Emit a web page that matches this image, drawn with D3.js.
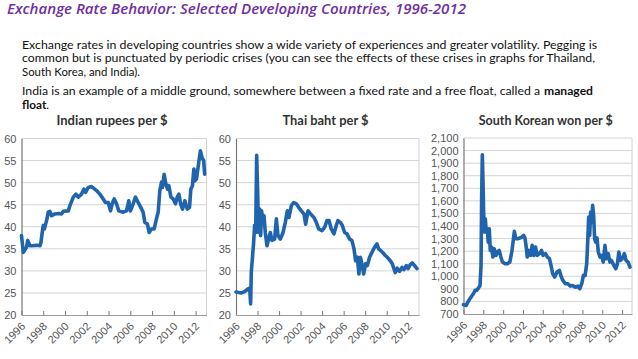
<!DOCTYPE html>
<html>
<meta charset="utf-8" />
<style>
  body { margin: 0; background: #fff; }
  svg { display: block; }
</style>
<svg width="638" height="359"></svg>
<script src="https://d3js.org/d3.v7.min.js"></script>
<script>
  // ---- data ----
  const yearTicks = [1996, 1998, 2000, 2002, 2004, 2006, 2008, 2010, 2012];
  const rateTicks = [20, 25, 30, 35, 40, 45, 50, 55, 60];
  const wonTicks = [700, 800, 900, 1000, 1100, 1200, 1300, 1400, 1500, 1600, 1700, 1800, 1900, 2000, 2100];

  // [year, rupees per $]
  const indiaRates = [
    [1996.0, 38], [1996.17, 34.2], [1996.47, 35.4], [1996.57, 36.9], [1996.78, 35.7],
    [1997.0, 35.7], [1997.4, 35.8], [1997.7, 35.7], [1997.79, 36.5], [1997.91, 38.8],
    [1998.0, 40.3], [1998.1, 39.5], [1998.22, 40.6], [1998.37, 42.1], [1998.46, 43.3],
    [1998.61, 43.5], [1998.77, 42.5], [1999.07, 42.9], [1999.4, 43.0], [1999.68, 42.9],
    [1999.84, 43.5], [2000.3, 43.6], [2000.45, 44.8], [2000.76, 46.7], [2001.0, 47.4],
    [2001.21, 46.7], [2001.52, 47.4], [2001.73, 48.5], [2001.89, 47.8], [2002.13, 48.9],
    [2002.44, 49.1], [2002.9, 48.2], [2003.2, 47.4], [2003.51, 46.3], [2003.72, 45.5],
    [2003.97, 45.5], [2004.18, 43.6], [2004.33, 45.2], [2004.52, 46.3], [2004.73, 45.2],
    [2004.94, 43.6], [2005.34, 43.3], [2005.65, 43.6], [2005.86, 45.9], [2006.01, 43.6],
    [2006.26, 45.2], [2006.47, 46.7], [2006.72, 45.5], [2006.96, 44.4], [2007.18, 43.3],
    [2007.33, 41.0], [2007.57, 40.6], [2007.73, 38.7], [2007.94, 39.5], [2008.19, 39.5],
    [2008.4, 41.8], [2008.56, 43.3], [2008.71, 48.2], [2008.87, 50.1], [2008.96, 48.9],
    [2009.11, 51.9], [2009.23, 50.1], [2009.42, 48.5], [2009.54, 49.3], [2009.73, 46.7],
    [2009.94, 46.3], [2010.15, 45.2], [2010.31, 46.7], [2010.46, 47.4], [2010.62, 45.2],
    [2010.8, 44.0], [2011.01, 45.9], [2011.23, 44.0], [2011.44, 44.4], [2011.56, 48.5],
    [2011.71, 49.3], [2011.84, 53.1], [2011.93, 50.4], [2012.08, 50.8], [2012.29, 54.6],
    [2012.44, 57.2], [2012.59, 55.7], [2012.74, 55.0], [2012.83, 51.9]
  ];

  // [year, baht per $]
  const thaiRates = [
    [1996.0, 25.2], [1996.5, 25.0], [1996.8, 25.3], [1997.11, 25.9], [1997.27, 26.1],
    [1997.36, 22.5], [1997.42, 29.7], [1997.52, 32.7], [1997.64, 36.5], [1997.73, 40.3],
    [1997.83, 38.7], [1997.92, 56.2], [1998.01, 47.8], [1998.11, 38.7], [1998.2, 44.0],
    [1998.29, 38.0], [1998.38, 43.6], [1998.51, 41.0], [1998.6, 42.5], [1998.72, 38.7],
    [1998.88, 35.7], [1999.03, 37.2], [1999.19, 38.7], [1999.34, 36.9], [1999.59, 37.2],
    [1999.75, 41.8], [1999.9, 38.0], [2000.12, 37.2], [2000.37, 38.7], [2000.58, 41.0],
    [2000.77, 43.6], [2000.92, 42.1], [2001.14, 44.8], [2001.36, 45.5], [2001.6, 45.2],
    [2001.82, 44.4], [2002.07, 43.6], [2002.32, 42.9], [2002.47, 40.6], [2002.69, 43.6],
    [2002.93, 42.9], [2003.24, 42.1], [2003.46, 41.0], [2003.68, 39.5], [2003.99, 39.1],
    [2004.24, 39.9], [2004.45, 41.4], [2004.64, 41.4], [2004.85, 39.5], [2005.1, 38.4],
    [2005.32, 40.3], [2005.47, 41.4], [2005.69, 41.0], [2005.88, 40.3], [2006.09, 38.7],
    [2006.31, 38.4], [2006.56, 37.2], [2006.77, 36.9], [2006.96, 35.0], [2007.11, 32.3],
    [2007.27, 33.1], [2007.42, 29.3], [2007.55, 33.1], [2007.7, 31.6], [2007.86, 29.3],
    [2008.04, 31.6], [2008.2, 31.2], [2008.41, 33.1], [2008.63, 34.2], [2008.88, 35.4],
    [2009.1, 36.1], [2009.25, 35.0], [2009.44, 34.6], [2009.65, 34.1], [2009.87, 33.5],
    [2010.12, 32.9], [2010.33, 32.3], [2010.52, 31.6], [2010.67, 30.5], [2010.8, 29.6],
    [2010.98, 30.6], [2011.2, 29.9], [2011.42, 30.8], [2011.6, 30.3], [2011.82, 31.2],
    [2011.98, 30.5], [2012.19, 31.4], [2012.38, 31.8], [2012.59, 31.2], [2012.81, 30.5]
  ];

  // [year, won per $]
  const koreaRates = [
    [1996.0, 774], [1996.27, 768], [1996.53, 808], [1996.77, 835], [1997.0, 861],
    [1997.17, 888], [1997.33, 888], [1997.5, 906], [1997.67, 927], [1997.77, 1087],
    [1997.83, 1617], [1997.9, 1967], [1997.97, 1750], [1998.03, 1511], [1998.1, 1352],
    [1998.2, 1458], [1998.3, 1352], [1998.4, 1378], [1998.5, 1272], [1998.6, 1378],
    [1998.7, 1206], [1998.83, 1232], [1998.97, 1153], [1999.1, 1219], [1999.27, 1166],
    [1999.43, 1193], [1999.6, 1206], [1999.77, 1153], [1999.93, 1113], [2000.2, 1100],
    [2000.43, 1100], [2000.67, 1113], [2000.87, 1193], [2001.0, 1272], [2001.13, 1357],
    [2001.27, 1299], [2001.47, 1299], [2001.67, 1304], [2001.87, 1312], [2002.07, 1325],
    [2002.2, 1304], [2002.33, 1232], [2002.43, 1153], [2002.6, 1206], [2002.77, 1166],
    [2002.93, 1246], [2003.1, 1166], [2003.27, 1232], [2003.43, 1166], [2003.67, 1180],
    [2003.87, 1206], [2004.03, 1166], [2004.27, 1180], [2004.47, 1153], [2004.67, 1140],
    [2004.83, 1087], [2005.0, 1020], [2005.2, 994], [2005.43, 1034], [2005.67, 1047],
    [2005.87, 994], [2006.03, 967], [2006.27, 941], [2006.53, 941], [2006.77, 922],
    [2007.0, 927], [2007.27, 914], [2007.53, 922], [2007.73, 901], [2007.93, 941],
    [2008.1, 1007], [2008.27, 1007], [2008.43, 1100], [2008.53, 1272], [2008.63, 1471],
    [2008.73, 1325], [2008.83, 1511], [2008.93, 1431], [2009.03, 1564], [2009.13, 1485],
    [2009.23, 1299], [2009.33, 1272], [2009.47, 1304], [2009.6, 1193], [2009.77, 1153],
    [2009.93, 1166], [2010.1, 1113], [2010.27, 1246], [2010.43, 1140], [2010.6, 1180],
    [2010.77, 1113], [2010.93, 1126], [2011.17, 1087], [2011.37, 1060], [2011.53, 1100],
    [2011.67, 1193], [2011.83, 1126], [2012.03, 1140], [2012.23, 1180], [2012.4, 1126],
    [2012.6, 1113], [2012.8, 1073]
  ];

  const svg = d3.select("svg");
  svg.append("rect").attr("width", 638).attr("height", 359).attr("fill", "#fff");

  // ---- heading and text ----
  svg.append("text")
    .attr("x", 7).attr("y", 14)
    .attr("font-family", "'Open Sans', sans-serif")
    .attr("font-style", "italic").attr("font-weight", 600)
    .attr("font-size", 14.5).attr("fill", "#7030a0")
    .attr("textLength", 459).attr("lengthAdjust", "spacingAndGlyphs")
    .text("Exchange Rate Behavior: Selected Developing Countries, 1996-2012");

  const bodyLines = [
    { t: "Exchange rates in developing countries show a wide variety of experiences and greater volatility. Pegging is", y: 48.5, w: 575 },
    { t: "common but is punctuated by periodic crises (you can see the effects of these crises in graphs for Thailand,", y: 62, w: 573 },
    { t: "South Korea, and India).", y: 75.5, w: 118 },
    { t: "India is an example of a middle ground, somewhere between a fixed rate and a free float, called a", y: 95, w: 518 }
  ];
  svg.selectAll("text.body").data(bodyLines).join("text")
    .attr("class", "body")
    .attr("x", 22).attr("y", d => d.y)
    .attr("font-family", "Lato, sans-serif").attr("font-size", 11.8).attr("fill", "#111")
    .attr("textLength", d => d.w).attr("lengthAdjust", "spacingAndGlyphs")
    .text(d => d.t);
  svg.append("text").attr("x", 544).attr("y", 95)
    .attr("font-family", "Lato, sans-serif").attr("font-size", 11.8).attr("font-weight", 700).attr("fill", "#111")
    .attr("textLength", 49).attr("lengthAdjust", "spacingAndGlyphs").text("managed");
  svg.append("text").attr("x", 22).attr("y", 108.5)
    .attr("font-family", "Lato, sans-serif").attr("font-size", 11.8).attr("fill", "#111")
    .html("<tspan font-weight='700'>float</tspan>.");

  // ---- panels ----
  const panels = [
    { title: "Indian rupees per $", tw: 111, data: indiaRates, ticks: rateTicks, domain: [20, 60],
      left: 21.5, right: 206.5, top: 138.5, bottom: 315, fmt: d3.format("d") },
    { title: "Thai baht per $", tw: 86, data: thaiRates, ticks: rateTicks, domain: [20, 60],
      left: 236, right: 419, top: 138.5, bottom: 315, fmt: d3.format("d") },
    { title: "South Korean won per $", tw: 134, data: koreaRates, ticks: wonTicks, domain: [700, 2100],
      left: 463.5, right: 632, top: 138, bottom: 314, fmt: d3.format(",") }
  ];

  panels.forEach(drawPanel);

  function drawPanel(p) {
    const x = d3.scaleLinear().domain([1996, 2013]).range([p.left, p.right]);
    const y = d3.scaleLinear().domain(p.domain).range([p.bottom, p.top]);
    const g = svg.append("g");

    g.append("text")
      .attr("x", (p.left + p.right) / 2 - 2).attr("y", 125)
      .attr("text-anchor", "middle")
      .attr("font-family", "Lato, sans-serif").attr("font-weight", 700)
      .attr("font-size", 12.5).attr("fill", "#333")
      .attr("textLength", p.tw).attr("lengthAdjust", "spacingAndGlyphs")
      .text(p.title);

    // gridlines
    g.append("g").selectAll("line").data(p.ticks.slice(1)).join("line")
      .attr("x1", p.left).attr("x2", p.right)
      .attr("y1", d => y(d)).attr("y2", d => y(d))
      .attr("stroke", "#d4d4d4").attr("stroke-width", 1);
    g.append("line")
      .attr("x1", p.right).attr("x2", p.right).attr("y1", p.top).attr("y2", p.bottom)
      .attr("stroke", "#d4d4d4");

    // y axis
    const ya = g.append("g").attr("transform", `translate(${p.left},0)`)
      .call(d3.axisLeft(y).tickValues(p.ticks).tickSize(0).tickPadding(5).tickFormat(p.fmt));
    ya.select(".domain").attr("stroke", "#777").attr("stroke-width", 1.2);
    ya.selectAll("text").attr("font-family", "'Liberation Sans', sans-serif")
      .attr("font-size", 11).attr("fill", "#555");

    // x axis
    const xa = g.append("g").attr("transform", `translate(0,${p.bottom})`)
      .call(d3.axisBottom(x).tickValues(yearTicks).tickSize(-4).tickSizeOuter(0).tickFormat(d3.format("d")));
    xa.select(".domain").attr("stroke", "#999");
    xa.selectAll(".tick line").attr("stroke", "#777");
    xa.selectAll("text")
      .attr("font-family", "'Liberation Sans', sans-serif")
      .attr("font-size", 11).attr("fill", "#555")
      .attr("text-anchor", "end")
      .attr("x", 0).attr("y", 0).attr("dy", 0)
      .attr("transform", "translate(4,12) rotate(-45)");

    // series
    g.append("path").datum(p.data)
      .attr("fill", "none").attr("stroke", "#1f64ad")
      .attr("stroke-width", 3.6).attr("stroke-linejoin", "round").attr("stroke-linecap", "round")
      .attr("d", d3.line().x(d => x(d[0])).y(d => y(d[1])));
  }
</script>
</html>
